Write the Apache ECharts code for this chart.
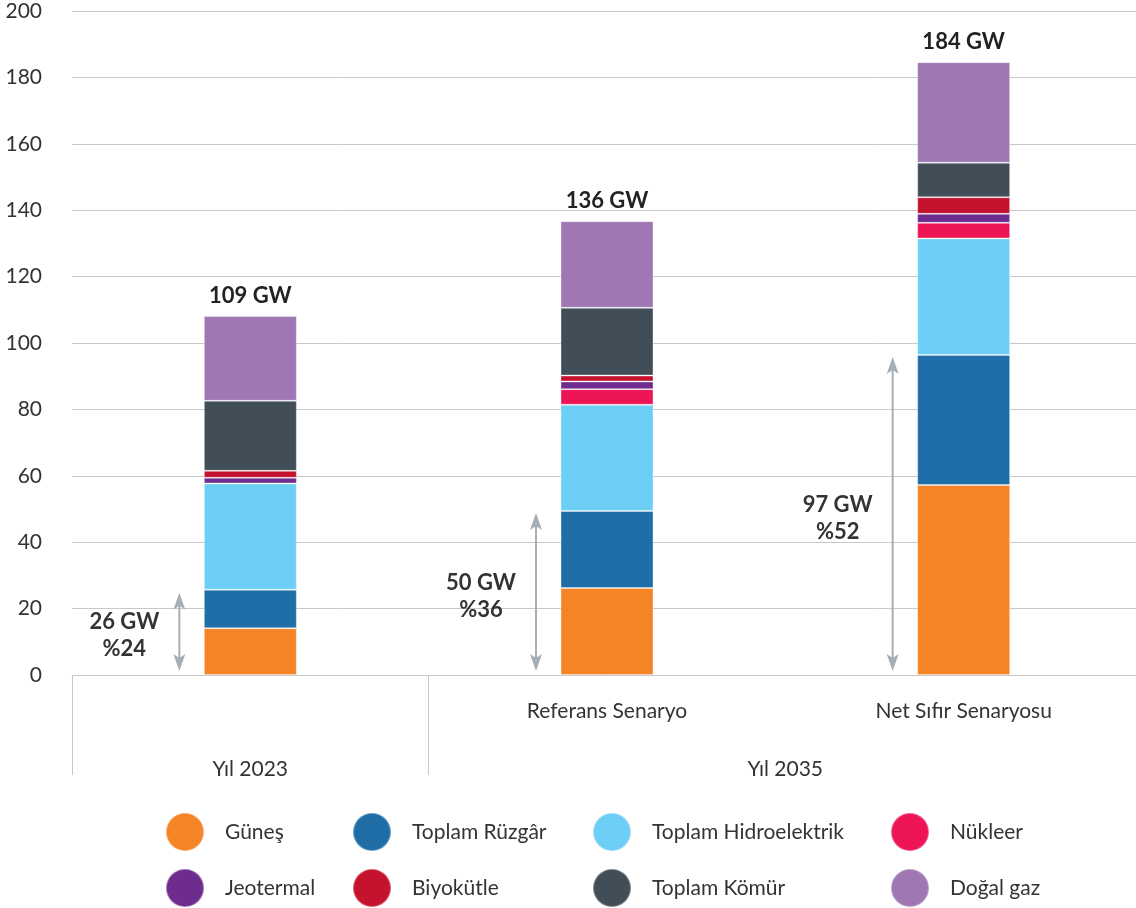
<!DOCTYPE html>
<html>
<head>
<meta charset="utf-8">
<script src="https://cdn.jsdelivr.net/npm/echarts@6/dist/echarts.min.js"></script>
<style>
  html, body { margin: 0; padding: 0; background: #fff; overflow: hidden; }
  #chart { width: 1142px; height: 908px; }
</style>
</head>
<body>
<div id="chart"></div>
<script>
// categories and group labels
var categories = ['Yıl 2023', 'Referans Senaryo', 'Net Sıfır Senaryosu'];
var groupLabels = ['Yıl 2023', 'Yıl 2035'];

// GW by source, bottom to top
var gunes     = [14.1, 26.2, 57.2];
var ruzgar    = [11.6, 23.2, 39.2];
var hidro     = [32.0, 32.0, 35.1];
var nukleer   = [0, 4.7, 4.7];
var jeotermal = [1.7, 2.3, 2.7];
var biyokutle = [2.1, 1.8, 5.0];
var komur     = [21.1, 20.4, 10.4];
var dogalgaz  = [25.5, 26.1, 30.3];

var totalLabels = ['109 GW', '136 GW', '184 GW'];
var renewGW  = [26, 50, 97];
var renewPct = ['%24', '%36', '%52'];

var yTicks = [0, 20, 40, 60, 80, 100, 120, 140, 160, 180, 200];

var FONT = 'Lato';
var TEXT = '#333333';
var GRID = '#c8c8c8';
var ARROW = '#a7aeb5';

var seriesDefs = [
  ['Güneş', gunes, '#f58426'],
  ['Toplam Rüzgâr', ruzgar, '#1f6ea7'],
  ['Toplam Hidroelektrik', hidro, '#6dcff6'],
  ['Nükleer', nukleer, '#ed1556'],
  ['Jeotermal', jeotermal, '#6e2c8f'],
  ['Biyokütle', biyokutle, '#c4122f'],
  ['Toplam Kömür', komur, '#414e57'],
  ['Doğal gaz', dogalgaz, '#9e77b3']
];

var series = seriesDefs.map(function (d, i) {
  var s = {
    name: d[0],
    type: 'bar',
    stack: 'total',
    barWidth: 93,
    xAxisIndex: 0,
    data: d[1],
    itemStyle: { color: d[2], borderColor: 'rgba(255,255,255,0.35)', borderWidth: 1 }
  };
  if (i === seriesDefs.length - 1) {
    s.label = {
      show: true,
      position: 'top',
      distance: 9,
      formatter: function (p) { return totalLabels[p.dataIndex]; },
      fontFamily: FONT,
      fontWeight: 'bold',
      fontSize: 22,
      color: '#222'
    };
  }
  return s;
});

// renewable share arrows
series.push({
  type: 'custom',
  xAxisIndex: 0,
  yAxisIndex: 0,
  silent: true,
  z: 5,
  data: renewGW.map(function (v, i) { return [i, v]; }),
  renderItem: function (params, api) {
    var idx = api.value(0);
    var base = api.coord([idx, 0]);
    var top = api.coord([idx, api.value(1)]);
    var x = base[0] - 71;
    var y0 = base[1] - 4;
    var y1 = top[1] + 4;
    return {
      type: 'group',
      children: [
        { type: 'line', shape: { x1: x, y1: y0 - 12, x2: x, y2: y1 + 12 },
          style: { stroke: ARROW, lineWidth: 2 } },
        { type: 'polygon', shape: { points: [[x, y1], [x - 6, y1 + 17], [x, y1 + 13], [x + 6, y1 + 17]] },
          style: { fill: ARROW } },
        { type: 'polygon', shape: { points: [[x, y0], [x - 6, y0 - 17], [x, y0 - 13], [x + 6, y0 - 17]] },
          style: { fill: ARROW } },
        { type: 'text', x: x - 55, y: (base[1] + top[1]) / 2 + 4,
          style: {
            text: renewGW[params.dataIndex] + ' GW\n' + renewPct[params.dataIndex],
            fontFamily: FONT, fontWeight: 'bold', fontSize: 22, lineHeight: 27,
            fill: TEXT, align: 'center', verticalAlign: 'middle'
          } }
      ]
    };
  }
});

// legend: two rows, four aligned columns
var legendCols = [165, 352, 592, 890];
var legendRows = [812, 868];
var legends = seriesDefs.map(function (d, i) {
  return {
    left: legendCols[i % 4],
    top: legendRows[Math.floor(i / 4)],
    padding: 0,
    itemWidth: 38,
    itemHeight: 38,
    icon: 'circle',
    selectedMode: false,
    data: [d[0]],
    textStyle: { fontFamily: FONT, fontSize: 21, color: TEXT, padding: [0, 0, 0, 16] }
  };
});

var option = {
  animation: false,
  backgroundColor: '#fff',
  textStyle: { fontFamily: FONT },
  grid: { left: 72, right: 0, top: 11, bottom: 233, containLabel: false },
  legend: legends,
  xAxis: [
    {
      type: 'category',
      data: categories,
      axisLine: { lineStyle: { color: GRID, width: 1 } },
      axisTick: { show: false },
      axisLabel: {
        margin: 26,
        fontFamily: FONT,
        fontSize: 21,
        color: TEXT,
        formatter: function (v, i) { return i === 0 ? '' : v; }
      }
    },
    {
      type: 'value',
      position: 'bottom',
      min: 0,
      max: 3,
      axisLine: { show: false },
      splitLine: { show: false },
      axisTick: { show: true, customValues: [0, 1], length: 100, lineStyle: { color: GRID, width: 1 } },
      axisLabel: {
        customValues: [0.5, 2],
        margin: 84,
        fontFamily: FONT,
        fontSize: 21,
        color: TEXT,
        formatter: function (v) { return v < 1 ? groupLabels[0] : groupLabels[1]; }
      }
    }
  ],
  yAxis: {
    type: 'value',
    min: yTicks[0],
    max: yTicks[yTicks.length - 1],
    interval: 20,
    axisLine: { show: false },
    axisTick: { show: false },
    splitLine: { lineStyle: { color: GRID, width: 1 } },
    axisLabel: { margin: 30, fontFamily: FONT, fontSize: 21, color: TEXT }
  },
  series: series
};

var chart = echarts.init(document.getElementById('chart'), null, { renderer: 'canvas' });
chart.setOption(option);
</script>
</body>
</html>
